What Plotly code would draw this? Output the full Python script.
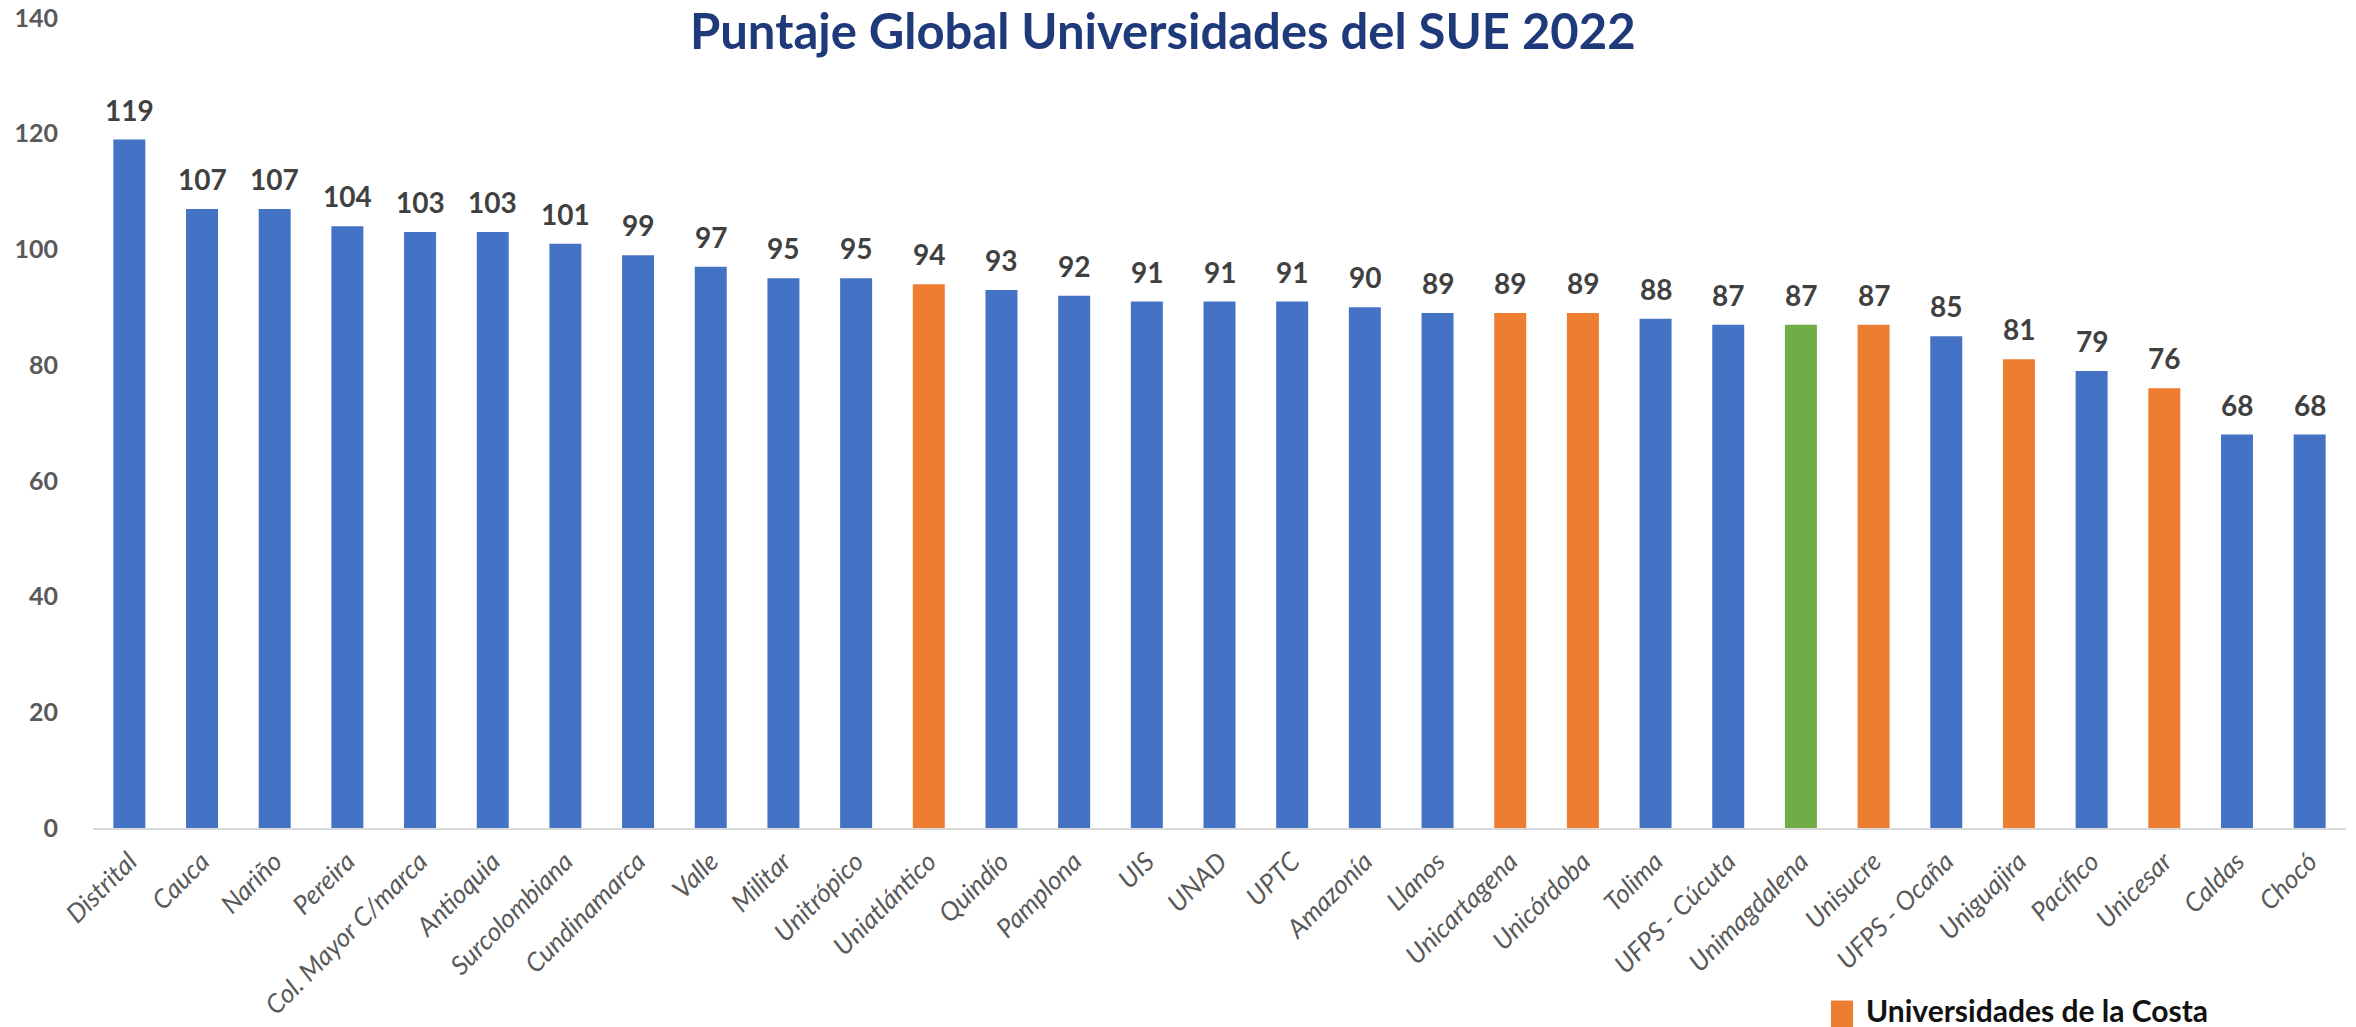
import plotly.graph_objects as go

universidades = [
    "Distrital", "Cauca", "Nariño", "Pereira", "Col. Mayor C/marca", "Antioquia",
    "Surcolombiana", "Cundinamarca", "Valle", "Militar", "Unitrópico", "Uniatlántico",
    "Quindío", "Pamplona", "UIS", "UNAD", "UPTC", "Amazonía", "Llanos", "Unicartagena",
    "Unicórdoba", "Tolima", "UFPS - Cúcuta", "Unimagdalena", "Unisucre", "UFPS - Ocaña",
    "Uniguajira", "Pacífico", "Unicesar", "Caldas", "Chocó",
]
puntaje = [
    119, 107, 107, 104, 103, 103,
    101, 99, 97, 95, 95, 94,
    93, 92, 91, 91, 91, 90, 89, 89,
    89, 88, 87, 87, 87, 85,
    81, 79, 76, 68, 68,
]
# region group: "otra", "costa" (Caribbean coast), "mag" (Unimagdalena highlighted)
grupo = [
    "otra", "otra", "otra", "otra", "otra", "otra",
    "otra", "otra", "otra", "otra", "otra", "costa",
    "otra", "otra", "otra", "otra", "otra", "otra", "otra", "costa",
    "costa", "otra", "otra", "mag", "costa", "otra",
    "costa", "otra", "costa", "otra", "otra",
]
y_ticks = [0, 20, 40, 60, 80, 100, 120, 140]

COLORS = {"otra": "#4472C4", "costa": "#ED7D31", "mag": "#70AD47"}
FONT = "Lato"

fig = go.Figure()
fig.add_trace(go.Bar(
    x=universidades, y=puntaje,
    marker=dict(color=[COLORS[g] for g in grupo], line_width=0),
    showlegend=False, hoverinfo="x+y",
))

# value labels above each bar
for u, v in zip(universidades, puntaje):
    fig.add_annotation(x=u, y=v, text=str(v), showarrow=False, yanchor="bottom",
                       yshift=11, font=dict(family=FONT, size=28, color="#404040", weight="bold"))

# title, right at the top edge like the source slide
fig.add_annotation(xref="paper", yref="paper", x=0.475, y=1.0, yshift=19, xanchor="center",
                   yanchor="top", showarrow=False,
                   text="Puntaje Global Universidades del SUE 2022",
                   font=dict(family=FONT, size=49, color="#1F3A7A", weight="bold"))

# legend swatch + label at the bottom
fig.add_shape(type="rect", xref="paper", yref="paper",
              x0=0.7714, x1=0.7812, y0=-0.213, y1=-0.246,
              fillcolor="#ED7D31", line_width=0)
fig.add_annotation(xref="paper", yref="paper", x=0.786, y=-0.200, xanchor="left",
                   yanchor="top", showarrow=False, text="Universidades de la Costa",
                   font=dict(family=FONT, size=30, color="#111111", weight="bold"))

fig.update_layout(
    width=2356, height=1027,
    paper_bgcolor="white", plot_bgcolor="white",
    margin=dict(l=85, r=18, t=10, b=207),
    bargap=0.56,
    xaxis=dict(
        tickangle=-45, showgrid=False, showline=True, linecolor="#D9D9D9", linewidth=2,
        ticks="", tickfont=dict(family=FONT, size=26, color="#595959", style="italic"),
        ticklabelstandoff=6, automargin=False,
    ),
    yaxis=dict(
        range=[0, 140], tickvals=y_ticks, showgrid=False, zeroline=False, showline=False,
        tickfont=dict(family=FONT, size=25, color="#595959", weight="bold"),
        ticklabelstandoff=34, automargin=False, ticklabeloverflow="allow",
    ),
)

fig.write_html("out.html")
